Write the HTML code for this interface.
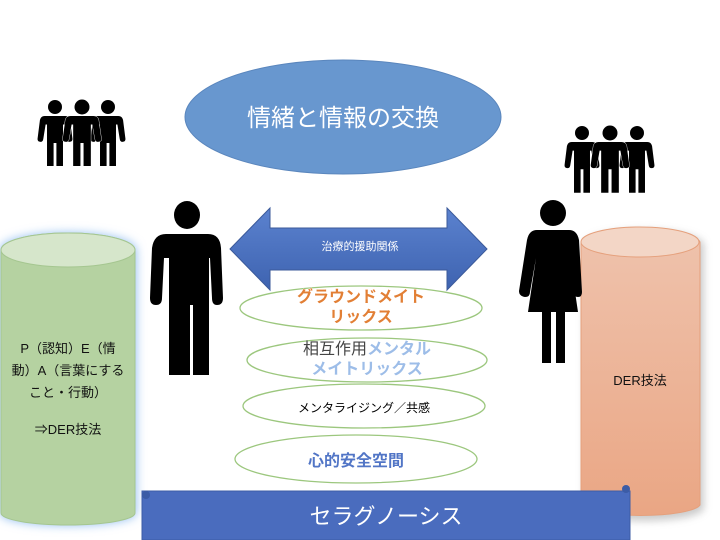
<!DOCTYPE html>
<html><head><meta charset="utf-8"><style>
html,body{margin:0;padding:0;background:#fff;}
svg{display:block;font-family:"Liberation Sans","Noto Sans CJK JP",sans-serif;}
</style></head><body>
<svg width="720" height="540" viewBox="0 0 720 540" xmlns="http://www.w3.org/2000/svg">
<defs>
<linearGradient id="og" x1="0" y1="0" x2="0" y2="1"><stop offset="0" stop-color="#efc3ad"/><stop offset="1" stop-color="#eaa684"/></linearGradient>
<linearGradient id="ag" x1="0" y1="0" x2="0" y2="1"><stop offset="0" stop-color="#5b82cf"/><stop offset="1" stop-color="#3e63b0"/></linearGradient>
<filter id="glow" x="-20%" y="-20%" width="140%" height="140%"><feGaussianBlur stdDeviation="5"/></filter>
<filter id="sh" x="-20%" y="-20%" width="140%" height="140%"><feGaussianBlur stdDeviation="4"/></filter>
<g id="man">
<path d="M-22,0 L22,0 Q30,0 32,10 L37,58 Q38,66 32,67 Q26,68 25,60 L20,22 L17,22 L17,130 L3,130 L3,70 L-3,70 L-3,130 L-17,130 L-17,22 L-20,22 L-25,60 Q-26,68 -32,67 Q-38,66 -37,58 L-32,10 Q-30,0 -22,0 Z"/>
</g>
</defs>

<ellipse cx="343" cy="117" rx="158" ry="57" fill="#6897cf" stroke="#5a86bd"/>
<text x="343" y="126" font-size="24" fill="#fff" text-anchor="middle">情緒と情報の交換</text>

<!-- groups -->
<g fill="#000" stroke="#fff" stroke-width="1.5" paint-order="stroke">
<use href="#man" transform="translate(55,116) scale(0.47,0.385)"/>
<use href="#man" transform="translate(108,116) scale(0.47,0.385)"/>
<use href="#man" transform="translate(82,116) scale(0.52,0.385)"/>
<use href="#man" transform="translate(582,142) scale(0.47,0.39)"/>
<use href="#man" transform="translate(637,142) scale(0.47,0.39)"/>
<use href="#man" transform="translate(610,142) scale(0.52,0.39)"/>
</g>
<g fill="#000">
<circle cx="55" cy="107" r="7"/><circle cx="82" cy="107" r="7.5"/><circle cx="108" cy="107" r="7"/>
<circle cx="582" cy="133" r="7"/><circle cx="610" cy="133" r="7.5"/><circle cx="637" cy="133" r="7"/>
</g>

<!-- left cylinder -->
<g>
<path d="M0,250 A68,17 0 0 1 136,250 L136,513 A68,12 0 0 1 0,513 Z" fill="#8fbcf0" filter="url(#glow)"/>
<path d="M1,250 A67,17 0 0 1 135,250 L135,513 A67,12 0 0 1 1,513 Z" fill="#b5d2a1" stroke="#a5c690"/>
<ellipse cx="68" cy="250" rx="67" ry="17" fill="#d6e6cb" stroke="#a5c690"/>
<g font-size="13" fill="#111" text-anchor="middle">
<text x="68" y="353">P（認知）E（情</text>
<text x="68" y="375">動）A（言葉にする</text>
<text x="68" y="397">こと・行動）</text>
<text x="68" y="434">⇒DER技法</text>
</g>
</g>

<!-- right cylinder -->
<g>
<path d="M581,242 A60,15 0 0 1 701,242 L701,505 A60,13 0 0 1 581,505 Z" fill="#999" opacity="0.5" filter="url(#sh)" transform="translate(3,3)"/>
<path d="M581,242 A60,15 0 0 1 700,242 L700,505 A60,12 0 0 1 581,505 Z" fill="url(#og)" stroke="#e5a07c"/>
<ellipse cx="640" cy="242" rx="59" ry="15" fill="#f3d6c6" stroke="#e5a07c"/>
<text x="640" y="385" font-size="13" fill="#111" text-anchor="middle">DER技法</text>
</g>

<!-- man -->
<g fill="#000">
<ellipse cx="187" cy="215" rx="13" ry="14"/>
<path d="M166,234 L208,234 Q220,234 221,248 L223,298 Q223,305 217,305 Q212,305 212,298 L210,258 L209,258 L209,375 L193,375 L193,305 L190,305 L190,375 L169,375 L169,258 L164,258 L162,298 Q162,305 156,305 Q150,305 150,298 L152,248 Q154,234 166,234 Z"/>
</g>

<!-- woman -->
<g fill="#000">
<circle cx="553" cy="213" r="13"/>
<path d="M537,230 L569,230 Q577,230 579,240 L582,292 Q582,297 578,297 Q574,297 574,292 L570,258 L578,312 L565,312 L565,363 L556,363 L556,312 L551,312 L551,363 L542,363 L542,312 L528,312 L536,258 L530,292 Q530,297 525,297 Q519,296 519,291 L527,240 Q529,230 537,230 Z"/>
</g>

<!-- double arrow -->
<path d="M230,249 L270,208 L270,228 L447,228 L447,208 L487,249 L447,290 L447,270 L270,270 L270,290 Z" fill="url(#ag)" stroke="#3b5a9a"/>
<text x="360" y="250" font-size="11" fill="#fff" text-anchor="middle">治療的援助関係</text>

<g fill="#fff" stroke="#9cc77e" stroke-width="1.3">
<ellipse cx="361" cy="308" rx="121" ry="22"/>
<ellipse cx="367" cy="360" rx="120" ry="22"/>
<ellipse cx="364" cy="406" rx="121" ry="22"/>
<ellipse cx="356" cy="459" rx="121" ry="24"/>
</g>
<g text-anchor="middle" font-weight="bold" stroke="#fff" stroke-width="0.6" paint-order="stroke">
<text x="361" y="302" font-size="16" fill="#e27f35">グラウンドメイト</text>
<text x="361" y="322" font-size="16" fill="#e27f35">リックス</text>
</g>
<text x="367" y="354" font-size="16" text-anchor="middle"><tspan fill="#444">相互作用</tspan><tspan fill="#9dbde8" font-weight="bold">メンタル</tspan></text>
<text x="367" y="374" font-size="16" text-anchor="middle" fill="#9dbde8" font-weight="bold">メイトリックス</text>
<text x="364" y="412" font-size="12" text-anchor="middle" fill="#000">メンタライジング／共感</text>
<text x="356" y="466" font-size="16" text-anchor="middle" fill="#5175c6" font-weight="bold">心的安全空間</text>

<rect x="142" y="491" width="488" height="49" fill="#4a6cbe" stroke="#3c5ca6"/>
<circle cx="146" cy="495" r="4" fill="#3c5ca6"/>
<circle cx="626" cy="489" r="4" fill="#3c5ca6"/>
<text x="386" y="524" font-size="22" fill="#fff" text-anchor="middle">セラグノーシス</text>
</svg>
</body></html>
